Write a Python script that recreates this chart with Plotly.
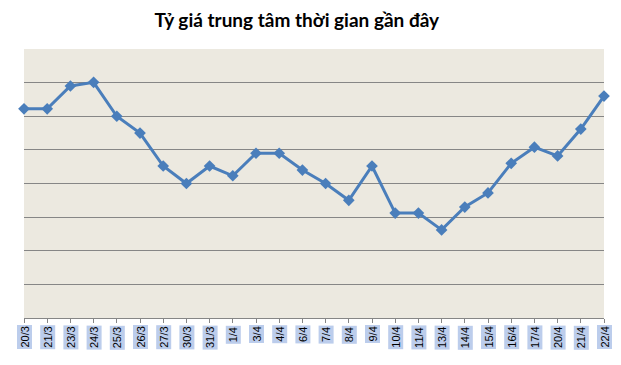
import plotly.graph_objects as go

dates = ["20/3", "21/3", "23/3", "24/3", "25/3", "26/3", "27/3", "30/3", "31/3",
         "1/4", "3/4", "4/4", "6/4", "7/4", "8/4", "9/4", "10/4", "11/4", "13/4",
         "14/4", "15/4", "16/4", "17/4", "20/4", "21/4", "22/4"]
values = [6.22, 6.22, 6.9, 7.01, 6.0, 5.5, 4.52, 4.0, 4.52,
          4.23, 4.9, 4.9, 4.4, 4.0, 3.5, 4.52, 3.12, 3.12, 2.62,
          3.3, 3.72, 4.6, 5.08, 4.82, 5.62, 6.6]
title = "Tỷ giá trung tâm thời gian gần đây"

fig = go.Figure()
fig.add_trace(go.Scatter(
    x=dates, y=values, mode="lines+markers",
    line=dict(color="#4A7EBB", width=3),
    marker=dict(symbol="diamond", size=9, color="#4A7EBB"),
    cliponaxis=False, showlegend=False, hoverinfo="x+y",
))

for d in dates:
    fig.add_annotation(
        x=d, y=0, xref="x", yref="paper", text=d, showarrow=False,
        textangle=-90, xanchor="center", yanchor="top", yshift=-7,
        font=dict(family="Liberation Sans", size=11, color="#000000"),
        bgcolor="#BCCDEC", borderpad=1,
    )

fig.update_layout(
    width=621, height=365,
    margin=dict(l=16, r=25, t=41, b=55),
    paper_bgcolor="white", plot_bgcolor="#ECE9E0",
    title=dict(text="<b>" + title + "</b>", x=0.465, xanchor="center", y=0.967, yanchor="middle",
               font=dict(family="Lato", size=19, color="#000000")),
    xaxis=dict(type="category", range=[0, len(dates) - 1], showgrid=False,
               showline=True, linecolor="#868686", linewidth=1,
               ticks="outside", ticklen=4, tickcolor="#868686",
               showticklabels=False, fixedrange=True),
    yaxis=dict(range=[0, 8], dtick=1, showgrid=True, gridcolor="#868686", gridwidth=1,
               showticklabels=False, zeroline=False, showline=False, fixedrange=True),
)

fig.write_html("out.html")
